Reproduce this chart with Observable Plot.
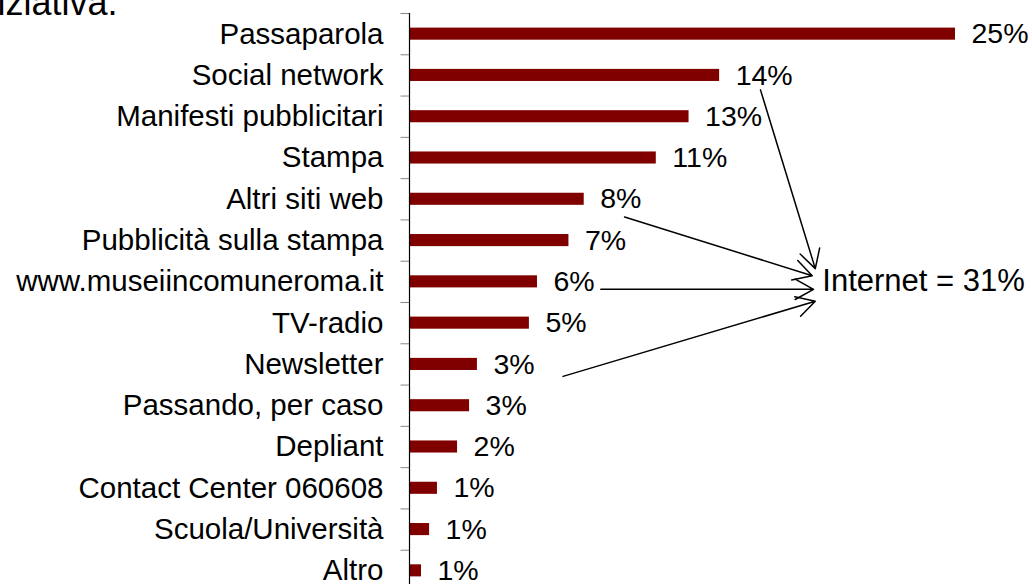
<!DOCTYPE html>
<html><head><meta charset="utf-8">
<script src="https://cdn.jsdelivr.net/npm/d3@7"></script>
<script src="https://cdn.jsdelivr.net/npm/@observablehq/plot@0.6"></script>
<style>
html,body{margin:0;padding:0;background:#fff;overflow:hidden}
</style>
</head><body><div id="chart"></div>
<script>
const categories = [
  "Passaparola", "Social network", "Manifesti pubblicitari", "Stampa",
  "Altri siti web", "Pubblicità sulla stampa", "www.museiincomuneroma.it",
  "TV-radio", "Newsletter", "Passando, per caso", "Depliant",
  "Contact Center 060608", "Scuola/Università", "Altro"
];
const values = [25.0, 14.2, 12.8, 11.3, 8.0, 7.3, 5.86, 5.49, 3.11, 2.75, 2.2, 1.28, 0.92, 0.55];
const valueLabels = ["25%", "14%", "13%", "11%", "8%", "7%", "6%", "5%", "3%", "3%", "2%", "1%", "1%", "1%"];

const titleText = "iziativa.";
const noteText = "Internet = 31%";
const noteX = 18.9;
const noteY = 5.97;

// arrows: start/end in data units (x = percent, y = row index)
const arrowX1 = [16.07, 9.85, 8.76, 7.03];
const arrowY1 = [1.35, 4.43, 6.18, 8.29];
const arrowX2 = [18.58, 18.44, 18.5, 18.58];
const arrowY2 = [5.68, 5.85, 6.18, 6.47];

const rows = categories.map((c, i) => ({c, i, v: values[i], label: valueLabels[i]}));
const arrows = arrowX1.map((x1, k) => ({x1, y1: arrowY1[k], x2: arrowX2[k], y2: arrowY2[k]}));
const n = categories.length;

const plot = Plot.plot({
  width: 1032,
  height: 584,
  marginLeft: 409,
  marginRight: 77,
  marginTop: 13,
  marginBottom: -7,
  x: {domain: [0, 25], axis: null},
  y: {domain: [-0.5, n - 0.5], reverse: true, axis: null},
  style: {
    fontFamily: "'Liberation Sans', Arial, sans-serif",
    fontSize: "28px",
    color: "#000",
    background: "#fff",
    overflow: "visible"
  },
  marks: [
    Plot.axisY(d3.range(n + 1).map(i => i - 0.5), {
      anchor: "left", tickSize: 8.5, stroke: "#888", strokeOpacity: 1,
      tickFormat: () => ""
    }),
    Plot.axisY(d3.range(n), {
      anchor: "left", tickSize: 0, tickPadding: 26,
      tickFormat: i => categories[i], fontSize: 29.5, fill: "#000"
    }),
    Plot.rect(rows, {
      x1: 0, x2: "v",
      y1: d => d.i - 0.5, y2: d => d.i + 0.5,
      insetTop: 14.6, insetBottom: 14.6,
      fill: "#800000"
    }),
    Plot.ruleX([0], {stroke: "#000", strokeWidth: 1.2}),
    Plot.text(rows, {
      x: "v", y: "i", text: "label", dx: 16,
      textAnchor: "start", fontSize: 28.5, fill: "#000"
    }),
    Plot.arrow(arrows, {
      x1: "x1", y1: "y1", x2: "x2", y2: "y2",
      stroke: "#000", strokeWidth: 1.5, headLength: 21, headAngle: 58
    }),
    Plot.text([noteText], {
      x: noteX, y: noteY, text: d => d,
      textAnchor: "start", fontSize: 31, fill: "#000"
    }),
    Plot.text([titleText], {
      frameAnchor: "top-left", text: d => d,
      dx: -412, dy: 1, lineAnchor: "bottom",
      textAnchor: "start", fontSize: 36, fill: "#000"
    })
  ]
});
document.getElementById("chart").appendChild(plot);
</script>
</body></html>
